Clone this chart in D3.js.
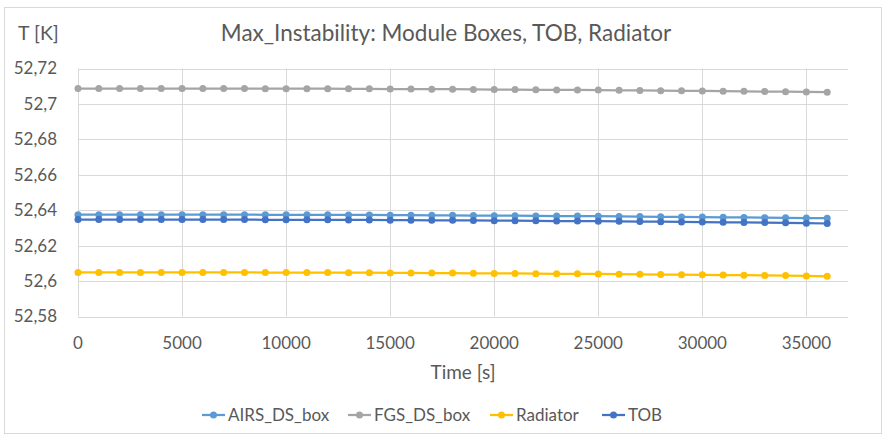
<!DOCTYPE html>
<html lang="en">
<head>
<meta charset="UTF-8">
<title>Max_Instability: Module Boxes, TOB, Radiator</title>
<script src="https://d3js.org/d3.v7.min.js"></script>
<style>
    body { margin: 0; background: #fff; }
    svg { font-family: Lato, "Open Sans", sans-serif; }
    .grid line { stroke: #d9d9d9; stroke-width: 1; }
    .tick-label { fill: #595959; font-size: 17px; }
    .series { fill: none; stroke-width: 2.25; }
</style>
</head>
<body>
<svg width="886" height="436"></svg>
<script>
// time in seconds, one sample every 1000 s
const times = d3.range(0, 36001, 1000);

const airs = [
    52.6375, 52.6375, 52.6375, 52.6375, 52.6375, 52.6375, 52.6375, 52.6375, 52.6375, 52.6374,
    52.6374, 52.6374, 52.6374, 52.6373, 52.6373, 52.6372, 52.6372, 52.6371, 52.6371, 52.6370,
    52.6369, 52.6369, 52.6368, 52.6367, 52.6367, 52.6366, 52.6365, 52.6364, 52.6363, 52.6362,
    52.6361, 52.6360, 52.6359, 52.6358, 52.6357, 52.6356, 52.6355
];
const fgs = [
    52.7087, 52.7087, 52.7087, 52.7087, 52.7087, 52.7087, 52.7087, 52.7087, 52.7087, 52.7086,
    52.7086, 52.7086, 52.7086, 52.7085, 52.7085, 52.7084, 52.7084, 52.7083, 52.7083, 52.7082,
    52.7081, 52.7081, 52.7080, 52.7079, 52.7079, 52.7078, 52.7077, 52.7076, 52.7075, 52.7074,
    52.7073, 52.7072, 52.7071, 52.7070, 52.7069, 52.7068, 52.7066
];
const radiator = [
    52.6049, 52.6049, 52.6049, 52.6049, 52.6049, 52.6049, 52.6049, 52.6049, 52.6049, 52.6048,
    52.6048, 52.6048, 52.6048, 52.6047, 52.6047, 52.6046, 52.6046, 52.6045, 52.6045, 52.6044,
    52.6043, 52.6043, 52.6042, 52.6041, 52.6041, 52.6040, 52.6039, 52.6038, 52.6037, 52.6036,
    52.6035, 52.6034, 52.6033, 52.6032, 52.6031, 52.6029, 52.6027
];
const tob = [
    52.6347, 52.6347, 52.6347, 52.6347, 52.6347, 52.6347, 52.6347, 52.6347, 52.6347, 52.6346,
    52.6346, 52.6346, 52.6346, 52.6345, 52.6345, 52.6344, 52.6344, 52.6343, 52.6343, 52.6342,
    52.6341, 52.6341, 52.6340, 52.6339, 52.6339, 52.6338, 52.6337, 52.6336, 52.6335, 52.6334,
    52.6333, 52.6332, 52.6331, 52.6330, 52.6329, 52.6327, 52.6325
];

const seriesNames = ["AIRS_DS_box", "FGS_DS_box", "Radiator", "TOB"];
const seriesColors = ["#5b9bd5", "#a5a5a5", "#ffc000", "#4472c4"];
const seriesValues = [airs, fgs, radiator, tob];

const xTicks = [0, 5000, 10000, 15000, 20000, 25000, 30000, 35000];
const yTicks = [52.58, 52.6, 52.62, 52.64, 52.66, 52.68, 52.7, 52.72];

const svg = d3.select("svg");
const W = +svg.attr("width"), H = +svg.attr("height");

// chart border
svg.append("rect")
    .attr("x", 4.5).attr("y", 7.5)
    .attr("width", W - 9).attr("height", H - 10)
    .attr("fill", "#fff").attr("stroke", "#d9d9d9");

const plot = {left: 78, right: 848, top: 68.5, bottom: 316.5};

const x = d3.scaleLinear().domain([0, 37000]).range([plot.left, plot.right]);
const y = d3.scaleLinear().domain([52.58, 52.72]).range([plot.bottom, plot.top]);

const fmtY = d => (+d.toFixed(2)).toString().replace(".", ",");

// gridlines
const grid = svg.append("g").attr("class", "grid");
grid.selectAll(".h").data(yTicks).join("line")
    .attr("x1", plot.left).attr("x2", plot.right)
    .attr("y1", d => Math.round(y(d)) + 0.5).attr("y2", d => Math.round(y(d)) + 0.5);
grid.selectAll(".v").data(xTicks).join("line")
    .attr("x1", d => Math.round(x(d)) + 0.5).attr("x2", d => Math.round(x(d)) + 0.5)
    .attr("y1", plot.top).attr("y2", plot.bottom);

// tick labels
svg.append("g").selectAll("text").data(yTicks).join("text")
    .attr("class", "tick-label")
    .attr("x", 57).attr("y", d => y(d))
    .attr("dy", "0.35em")
    .attr("text-anchor", "end")
    .text(fmtY);

svg.append("g").selectAll("text").data(xTicks).join("text")
    .attr("class", "tick-label")
    .attr("x", d => x(d)).attr("y", 343)
    .attr("dy", "0.35em")
    .attr("text-anchor", "middle")
    .text(d => d);

// titles
svg.append("text")
    .attr("x", 446).attr("y", 33).attr("dy", "0.35em")
    .attr("text-anchor", "middle")
    .attr("fill", "#595959").style("font-size", "22.5px")
    .text("Max_Instability: Module Boxes, TOB, Radiator");

svg.append("text")
    .attr("x", 18).attr("y", 33).attr("dy", "0.35em")
    .attr("fill", "#595959").style("font-size", "19.5px")
    .text("T [K]");

svg.append("text")
    .attr("x", (plot.left + plot.right) / 2).attr("y", 372).attr("dy", "0.35em")
    .attr("text-anchor", "middle")
    .attr("fill", "#595959").style("font-size", "19px")
    .text("Time [s]");

// series
const line = d3.line().x((d, i) => x(times[i])).y(d => y(d));
seriesValues.forEach((vals, k) => {
    const g = svg.append("g");
    g.append("path")
        .attr("class", "series")
        .attr("stroke", seriesColors[k])
        .attr("d", line(vals));
    g.selectAll("circle").data(vals).join("circle")
        .attr("cx", (d, i) => x(times[i]))
        .attr("cy", d => y(d))
        .attr("r", 3.5)
        .attr("fill", seriesColors[k]);
});

// legend
const legendX = [202, 348, 490, 602];
const legend = svg.append("g");
seriesNames.forEach((name, k) => {
    const lg = legend.append("g").attr("transform", `translate(${legendX[k]},415)`);
    lg.append("line").attr("x1", 0).attr("x2", 23)
        .attr("stroke", seriesColors[k]).attr("stroke-width", 2.25);
    lg.append("circle").attr("cx", 11.5).attr("r", 3.5).attr("fill", seriesColors[k]);
    lg.append("text").attr("x", 26).attr("dy", "0.35em")
        .attr("class", "tick-label")
        .text(name);
});
</script>
</body>
</html>
